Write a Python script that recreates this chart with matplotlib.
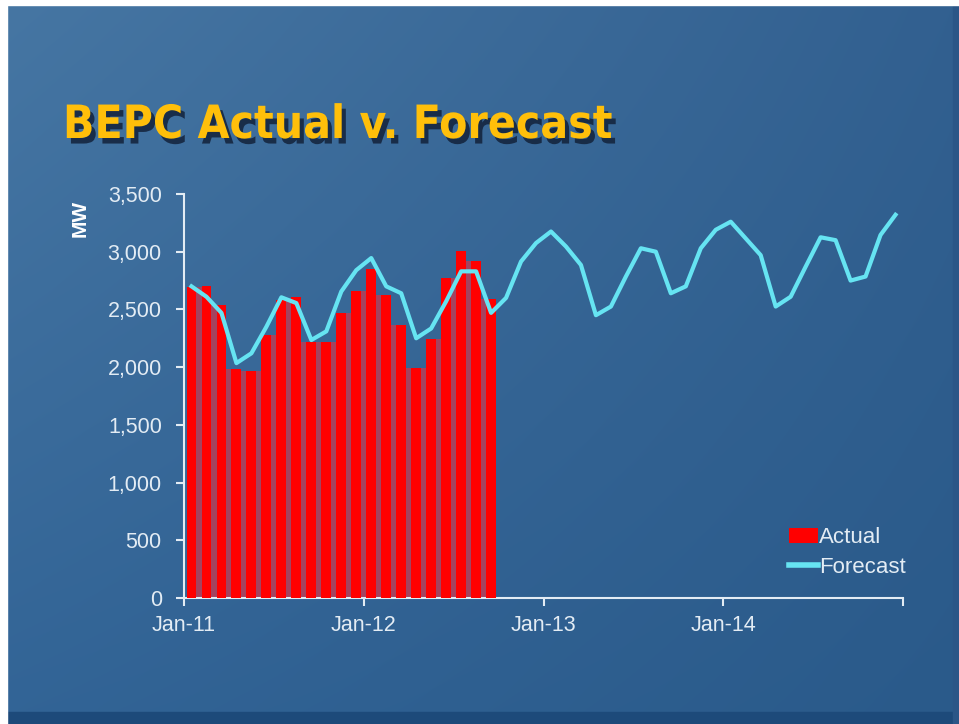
import matplotlib
matplotlib.use("Agg")
import matplotlib.pyplot as plt
import matplotlib.patheffects as pe
from matplotlib import font_manager
from matplotlib.patches import Rectangle, Patch
from matplotlib.lines import Line2D
from matplotlib.ticker import StrMethodFormatter
import numpy as np

plt.rcParams["font.family"] = ["Liberation Sans", "DejaVu Sans"]

# monthly peak demand (MW), Jan-11 .. Sep-12
actual = [2690, 2700, 2540, 1980, 1965, 2280, 2580, 2605, 2215, 2215, 2465, 2660,
          2850, 2625, 2365, 1990, 2245, 2770, 3010, 2920, 2590]
# monthly forecast (MW), Jan-11 .. Dec-14
forecast = [2700, 2610, 2470, 2035, 2120, 2350, 2605, 2555, 2235, 2310, 2655, 2840,
            2945, 2700, 2640, 2250, 2335, 2570, 2830, 2830, 2470, 2600, 2915, 3075,
            3175, 3045, 2885, 2450, 2525, 2785, 3030, 3000, 2640, 2700, 3030, 3190,
            3260, 3115, 2970, 2525, 2610, 2870, 3125, 3100, 2750, 2785, 3145, 3320]
year_ticks = [0, 12, 24, 36, 48]
year_labels = ["Jan-11", "Jan-12", "Jan-13", "Jan-14", ""]
y_ticks = [0, 500, 1000, 1500, 2000, 2500, 3000, 3500]

months = np.arange(len(forecast)) + 0.5
n_act = len(actual)

fig = plt.figure(figsize=(9.59, 7.24), dpi=100)

# %% slide background
bg = fig.add_axes([0, 0, 1, 1], zorder=-10)
bg.set_axis_off()
yy, xx = np.mgrid[0:1:60j, 0:1:80j]
c_tl = np.array([70, 118, 163]) / 255
c_tr = np.array([50, 96, 144]) / 255
c_bl = np.array([50, 100, 150]) / 255
c_br = np.array([42, 90, 138]) / 255
grad = ((1 - yy)[..., None] * ((1 - xx)[..., None] * c_tl + xx[..., None] * c_tr)
        + yy[..., None] * ((1 - xx)[..., None] * c_bl + xx[..., None] * c_br))
bg.imshow(grad, extent=[0, 1, 0, 1], aspect="auto", interpolation="bilinear")
bg.set_xlim(0, 1)
bg.set_ylim(0, 1)
bg.add_patch(Rectangle((0, 0), 1, 12 / 724, color="#1d4a7a", zorder=2))
bg.add_patch(Rectangle((953 / 959, 0), 6 / 959, 1, color="#2b5687", zorder=2))
bg.add_patch(Rectangle((0, 1 - 5 / 724), 1, 5 / 724, color="white", zorder=3))
bg.add_patch(Rectangle((0, 0), 7 / 959, 1, color="white", zorder=3))

# %% chart
ax = fig.add_axes([184 / 959, 1 - 598 / 724, 719 / 959, 404 / 724])
ax.patch.set_alpha(0)

gap_h = np.minimum(actual[:-1], actual[1:])
ax.bar(np.arange(1, n_act), gap_h, width=0.34, color="#a4435f", zorder=2)
ax.bar(months[:n_act], actual, width=0.66, color="#ff0000", zorder=3)
ax.plot(months, forecast, color="#66e4f2", lw=3.0, zorder=4)

ax.set_xlim(0, 48)
ax.set_ylim(0, 3500)
ax.set_xticks(year_ticks, year_labels)
ax.set_yticks(y_ticks)
ax.yaxis.set_major_formatter(StrMethodFormatter("{x:,.0f}"))

light = "#e3ecf4"
for side in ["top", "right"]:
    ax.spines[side].set_visible(False)
for side in ["left", "bottom"]:
    ax.spines[side].set_color(light)
    ax.spines[side].set_linewidth(1.5)
ax.tick_params(colors=light, labelsize=15.5, length=6, width=1.5, direction="out")
ax.tick_params(axis="y", pad=10)
ax.tick_params(axis="x", pad=6)

handles = [Patch(facecolor="#ff0000"), Line2D([], [], color="#66e4f2", lw=4)]
fig.legend(handles, ["Actual", "Forecast"], loc="lower right",
           bbox_to_anchor=(906 / 959, 1 - 578 / 724), frameon=False, fontsize=16,
           labelcolor=light, handlelength=1.3, handletextpad=0.05,
           labelspacing=0.4, borderpad=0, borderaxespad=0)

fig.text(80 / 959, 1 - 218 / 724, "MW", rotation=90, fontweight="bold",
         fontsize=15, color="white", ha="center", va="center")

# %% title -- look for a condensed bold face, fall back to the regular one
title_family, title_stretch = "Liberation Sans", "normal"
for f in font_manager.fontManager.ttflist:
    narrow = ("Narrow" in f.name or "Condensed" in f.name
              or f.stretch in ("condensed", "semi-condensed", "extra-condensed"))
    wt = f.weight if isinstance(f.weight, int) else 700 if "bold" in str(f.weight) else 400
    if narrow and wt >= 600:
        title_family, title_stretch = f.name, f.stretch
        break

title = fig.text(63 / 959, 1 - 138 / 724, "BEPC Actual v. Forecast",
                 family=title_family, stretch=title_stretch, fontsize=40,
                 fontweight="bold", color="#ffbf0a", va="baseline",
                 path_effects=[pe.SimplePatchShadow(offset=(3, -4),
                                                    shadow_rgbFace="#13223a",
                                                    alpha=0.85),
                               pe.Normal()])
# scale the title so it spans the same width as the slide's heading
fig.canvas.draw()
w = title.get_window_extent().width
title.set_fontsize(min(46, 40 * 549 / w))

fig.savefig("out.png", dpi=100)
